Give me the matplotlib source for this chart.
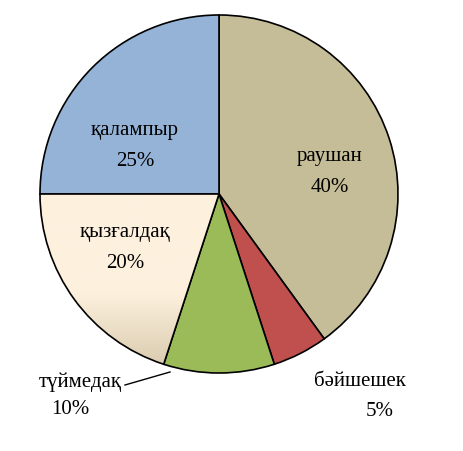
import matplotlib
matplotlib.use("Agg")
import matplotlib.pyplot as plt
import numpy as np

labels = ["раушан", "бәйшешек", "түймедақ", "қызғалдақ", "қалампыр"]
values = [40, 5, 10, 20, 25]
colors = ["#C4BD97", "#C0504D", "#9BBB59", "#FCEBD2", "#95B3D7"]

W, H = 463, 451
fig = plt.figure(figsize=(W/100, H/100), dpi=100)
ax = fig.add_axes([0, 0, 1, 1])
ax.set_xlim(0, W); ax.set_ylim(0, H); ax.axis("off")
cx, cy, r = 219, H-194, 179
wedges, _ = ax.pie(values, colors=colors, startangle=90, counterclock=False,
                   center=(cx, cy), radius=r, frame=True,
                   wedgeprops=dict(edgecolor="black", linewidth=1.2))
ax.set_xlim(0, W); ax.set_ylim(0, H); ax.axis("off"); ax.set_aspect("auto")

# gradient for қызғалдақ
grad = np.linspace(0, 1, 256).reshape(-1, 1)
c1 = np.array([253, 241, 222]) / 255
c2 = np.array([215, 200, 170]) / 255
img = np.zeros((256, 1, 3))
t = np.clip((grad - 0.55) / 0.45, 0, 1)
img[:, 0, :] = c1 * (1 - t) + c2 * t
im = ax.imshow(img, extent=(cx-r, cx, cy-r, cy), origin="upper", aspect="auto", zorder=1.5)
im.set_clip_path(wedges[3])
wedges[3].set_facecolor("none"); wedges[3].set_zorder(2)

font = dict(family=["Liberation Serif", "DejaVu Serif"], fontsize=15, ha="center", va="center")
pcts = [f"{v}%" for v in values]
ax.text(330, H-157, labels[0], **font); ax.text(330, H-187, pcts[0], **font)
ax.text(360, H-382, labels[1], **font); ax.text(380, H-412, pcts[1], **font)
ax.text(80, H-382, labels[2], **font); ax.text(70, H-410, pcts[2], **font)
ax.text(125, H-232, labels[3], **font); ax.text(125, H-263, pcts[3], **font)
ax.text(135, H-130, labels[4], **font); ax.text(135, H-162, pcts[4], **font)
ax.plot([125, 170], [H-385, H-372], color="black", lw=1)

fig.savefig("out.png", dpi=100)
